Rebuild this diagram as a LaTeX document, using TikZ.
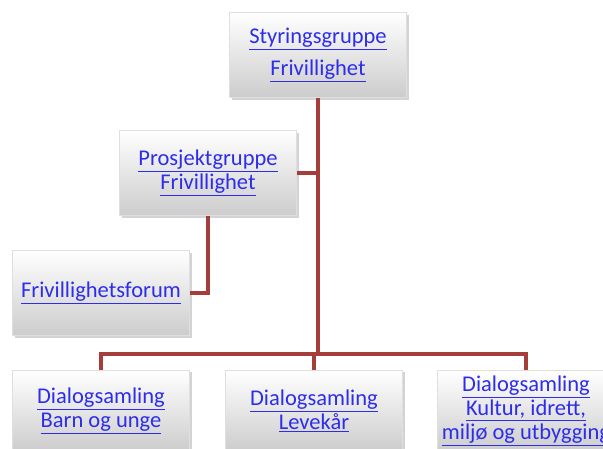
\documentclass[tikz,border=0pt]{standalone}
\usepackage{fontspec}
\setmainfont{Carlito}
\usetikzlibrary{shadows}
\definecolor{linkblue}{RGB}{45,45,235}
\definecolor{connred}{RGB}{165,62,58}
\newcommand{\lnk}[1]{{\color{linkblue}\underline{#1}}}
\begin{document}
\begin{tikzpicture}[
    x=0.025cm, y=-0.025cm,
    box/.style={rectangle, draw=gray!25, top color=white, bottom color=gray!40, minimum width=4.425cm, minimum height=2.125cm, align=center, inner sep=1pt, font=\fontsize{16}{17}\selectfont, drop shadow={opacity=0.35, shadow xshift=1.5pt, shadow yshift=-1.5pt}},
    conn/.style={draw=connred, line width=2.2pt}
]
\clip (0,0) rectangle (603,448);
\useasboundingbox (0,0) rectangle (603,448);

% Top levels
\node[box] (styr) at (318,55) {\lnk{Styringsgruppe}\\[6pt]\lnk{Frivillighet}};
\node[box] (prosj) at (208,173) {\lnk{Prosjektgruppe}\\\lnk{Frivillighet}};
\node[box] (forum) at (101,293) {\lnk{Frivillighetsforum}};

% Dialog boxes
\node[box, minimum height=2.05cm] (dlg1) at (101,411) {\lnk{Dialogsamling}\\\lnk{Barn og unge}};
\node[box, minimum height=2.05cm] (dlg2) at (314,411) {\lnk{Dialogsamling}\\\lnk{Levekår}};
\node[box, minimum height=2.05cm] (dlg3) at (526,411) {\lnk{Dialogsamling}\\\lnk{Kultur, idrett,}\\\lnk{miljø og utbygging}};

\coordinate (bus) at (318,354);

% Connectors
\draw[conn] (styr.south) -- (bus);
\draw[conn] (prosj.east) -- (prosj.east -| styr.south);
\draw[conn] (prosj.south) |- (forum.east);
\draw[conn] (dlg1.north) |- (bus) -| (dlg3.north);
\draw[conn] (dlg2.north) -- (dlg2.north |- bus);

\end{tikzpicture}
\end{document}
